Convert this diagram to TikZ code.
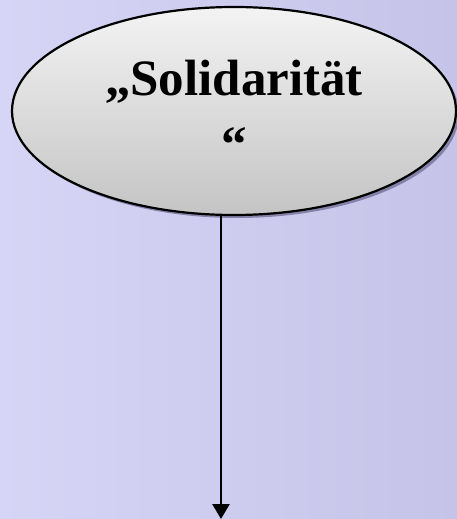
\documentclass[tikz,border=0pt]{standalone}
\usepackage{fontspec}
\setmainfont{Liberation Serif}
\usepackage{tikz}
\usetikzlibrary{shapes.geometric,shadows,arrows.meta}

\begin{document}
\begin{tikzpicture}[x=1pt,y=-1pt]
        % Define colors
        \definecolor{backleft}{RGB}{214, 213, 246}  % light lavender
        \definecolor{backright}{RGB}{197, 195, 231} % darker lavender
        \definecolor{ovaltop}{RGB}{243, 243, 243}
        \definecolor{ovalbottom}{RGB}{196, 196, 196}
        \definecolor{shadowcolor}{RGB}{105, 100, 140}

        \tikzset{
          oval/.style={draw, ellipse, line width=2.2pt, inner sep=0pt,
            minimum width=444pt, minimum height=208pt,
            top color=ovaltop, bottom color=ovalbottom,
            drop shadow={shadow xshift=3pt, shadow yshift=-3pt,
              fill=shadowcolor, opacity=0.7},
            align=center, font=\fontsize{51}{66}\selectfont\bfseries},
          flow/.style={-{Triangle[length=15pt,width=17pt]}, line width=2.6pt}
        }

        % Draw background
        \fill[left color=backleft, right color=backright] (0,0) rectangle (457,519);
        \useasboundingbox (0,0) rectangle (457,519);

        % Draw the oval
        \node[oval] (sol) at (234,111) {„Solidarität\\“};

        % Draw arrow down
        \coordinate (end) at (221,519);
        \draw[flow] (sol.south -| end) -- (end);
    \end{tikzpicture}
\end{document}
